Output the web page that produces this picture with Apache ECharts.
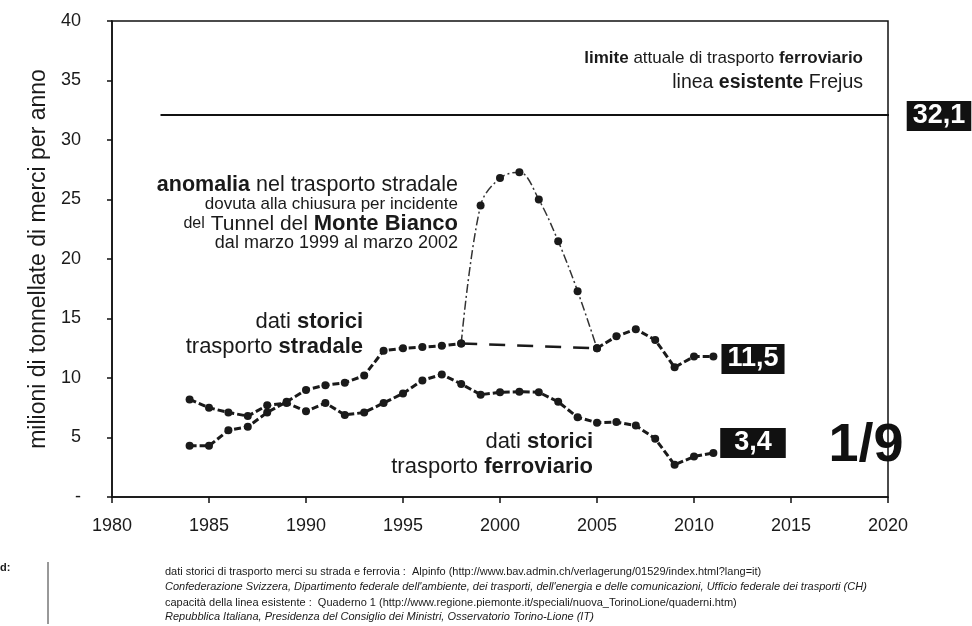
<!DOCTYPE html>
<html>
<head>
<meta charset="utf-8">
<script src="https://cdn.jsdelivr.net/npm/echarts@6/dist/echarts.min.js"></script>
<style>
html,body{margin:0;padding:0;background:#fff;}
#c{width:972px;height:626px;}
</style>
</head>
<body>
<div id="c"></div>
<script>
// ---- data ----
var years = [1984,1985,1986,1987,1988,1989,1990,1991,1992,1993,1994,1995,1996,1997,1998,1999,2000,2001,2002,2003,2004,2005,2006,2007,2008,2009,2010,2011];
var roadValues = [4.3,4.3,5.6,5.9,7.1,8.0,9.0,9.4,9.6,10.2,12.3,12.5,12.6,12.7,12.9,null,null,null,null,null,null,12.5,13.5,14.1,13.2,10.9,11.8,11.8];
var railValues = [8.2,7.5,7.1,6.8,7.7,7.9,7.2,7.9,6.9,7.1,7.9,8.7,9.8,10.3,9.5,8.6,8.8,8.85,8.8,8.0,6.7,6.25,6.3,6.0,4.9,2.7,3.4,3.7];
var anomalyYears = [1998,1999,2000,2001,2002,2003,2004,2005];
var anomalyValues = [12.9,24.5,26.8,27.3,25.0,21.5,17.3,12.5];
var trendYears = [1998,2005];
var trendValues = [12.9,12.5];
var limitYears = [1982.5,2020.3];
var limitValues = [32.1,32.1];
var xTicks = {min:1980,max:2020,interval:5};
var yTicks = {min:0,max:40,interval:5};

function pairs(xs, ys){ return xs.map(function(x,i){ return [x, ys[i]]; }); }

var FONT = "'Liberation Sans', Arial, sans-serif";
var chart = echarts.init(document.getElementById('c'), null, {renderer:'canvas'});

var lineCol = '#1a1a1a';
function rt(size){ return {b:{fontWeight:'bold',fontSize:size,fill:'#1a1a1a',fontFamily:FONT}}; }
var option = {
  backgroundColor:'#ffffff',
  animation:false,
  textStyle:{fontFamily:FONT},
  grid:{left:112,right:84,top:21,bottom:129,show:true,borderColor:'#111',borderWidth:1.5,backgroundColor:'transparent'},
  xAxis:{
    type:'value', min:xTicks.min, max:xTicks.max, interval:xTicks.interval,
    axisLine:{show:true,onZero:false,lineStyle:{color:'#111',width:1.5}},
    axisTick:{show:true,inside:false,length:6,lineStyle:{color:'#111',width:1.5}},
    axisLabel:{color:'#1a1a1a',fontSize:18,margin:20,fontFamily:FONT,
      formatter:function(v){ return String(v); }},
    splitLine:{show:false}
  },
  yAxis:{
    type:'value', min:yTicks.min, max:yTicks.max, interval:yTicks.interval,
    name:'milioni di tonnellate di merci per anno', nameLocation:'middle', nameGap:60, nameRotate:90,
    nameTextStyle:{color:'#1a1a1a',fontSize:23,fontFamily:FONT},
    axisLine:{show:true,lineStyle:{color:'#111',width:1.5}},
    axisTick:{show:true,inside:false,length:5,lineStyle:{color:'#111',width:1.5}},
    axisLabel:{color:'#1a1a1a',fontSize:18,margin:31,fontFamily:FONT,
      formatter:function(v){ return v===0 ? '-' : String(v); }},
    splitLine:{show:false}
  },
  series:[
    {type:'line', name:'limite', data:pairs(limitYears,limitValues), symbol:'none',
      lineStyle:{color:'#111',width:2}, z:2},
    {type:'line', name:'tendenza', data:pairs(trendYears,trendValues), symbol:'none',
      lineStyle:{color:lineCol,width:2.5,type:[16,12]}, z:2},
    {type:'line', name:'anomalia', data:pairs(anomalyYears,anomalyValues), smooth:0.35,
      symbol:'circle', symbolSize:8, itemStyle:{color:lineCol},
      lineStyle:{color:'#333',width:1.5,type:[9,3,2,3]}, z:3},
    {type:'line', name:'stradale', data:pairs(years,roadValues), connectNulls:false,
      symbol:'circle', symbolSize:8, itemStyle:{color:lineCol},
      lineStyle:{color:lineCol,width:3,type:[7,3]}, z:4},
    {type:'line', name:'ferroviario', data:pairs(years,railValues),
      symbol:'circle', symbolSize:8, itemStyle:{color:lineCol},
      lineStyle:{color:lineCol,width:3,type:[7,3]}, z:4}
  ],
  graphic:[
    // limit annotation
    {type:'text', x:863, y:58, style:{text:'{b|limite} attuale di trasporto {b|ferroviario}', fill:'#1a1a1a', font:'17px '+FONT, align:'right', verticalAlign:'middle', rich:rt(17)}},
    {type:'text', x:863, y:83, style:{text:'linea {b|esistente} Frejus', fill:'#1a1a1a', font:'19.5px '+FONT, align:'right', verticalAlign:'middle', rich:rt(19.5)}},
    // value boxes
    {type:'text', x:939, y:116, style:{text:'32,1', fill:'#ffffff', font:'bold 27px '+FONT, align:'center', verticalAlign:'middle', backgroundColor:'#111', padding:[2,6,1,6]}},
    {type:'text', x:753, y:359, style:{text:'11,5', fill:'#ffffff', font:'bold 27px '+FONT, align:'center', verticalAlign:'middle', backgroundColor:'#111', padding:[2,6,1,6]}},
    {type:'text', x:753, y:443, style:{text:'3,4', fill:'#ffffff', font:'bold 27px '+FONT, align:'center', verticalAlign:'middle', backgroundColor:'#111', padding:[2,14,1,14]}},
    {type:'text', x:866, y:446, style:{text:'1/9', fill:'#111', font:'bold 54px '+FONT, align:'center', verticalAlign:'middle'}},
    // anomaly annotation
    {type:'text', x:458, y:185, style:{text:'{b|anomalia} nel trasporto stradale', fill:'#1a1a1a', font:'21.5px '+FONT, align:'right', verticalAlign:'middle', rich:rt(21.5)}},
    {type:'text', x:458, y:204, style:{text:'dovuta alla chiusura per incidente', fill:'#1a1a1a', font:'17px '+FONT, align:'right', verticalAlign:'middle'}},
    {type:'text', x:458, y:224, style:{text:'{s|del} Tunnel del {b|Monte Bianco}', fill:'#1a1a1a', font:'21px '+FONT, align:'right', verticalAlign:'middle',
      rich:{s:{fontSize:16,fill:'#1a1a1a',fontFamily:FONT},b:{fontWeight:'bold',fontSize:22,fill:'#1a1a1a',fontFamily:FONT}}}},
    {type:'text', x:458, y:243, style:{text:'dal marzo 1999 al marzo 2002', fill:'#1a1a1a', font:'18px '+FONT, align:'right', verticalAlign:'middle'}},
    // series labels
    {type:'text', x:363, y:322, style:{text:'dati {b|storici}', fill:'#1a1a1a', font:'22px '+FONT, align:'right', verticalAlign:'middle', rich:rt(22)}},
    {type:'text', x:363, y:347, style:{text:'trasporto {b|stradale}', fill:'#1a1a1a', font:'22px '+FONT, align:'right', verticalAlign:'middle', rich:rt(22)}},
    {type:'text', x:593, y:442, style:{text:'dati {b|storici}', fill:'#1a1a1a', font:'22px '+FONT, align:'right', verticalAlign:'middle', rich:rt(22)}},
    {type:'text', x:593, y:467, style:{text:'trasporto {b|ferroviario}', fill:'#1a1a1a', font:'22px '+FONT, align:'right', verticalAlign:'middle', rich:rt(22)}},
    // footer
    {type:'text', x:0, y:568, style:{text:'d:', fill:'#1a1a1a', font:'bold 11px '+FONT, align:'left', verticalAlign:'middle'}},
    {type:'line', shape:{x1:48,y1:562,x2:48,y2:624}, style:{stroke:'#333',lineWidth:1}},
    {type:'text', x:165, y:572, style:{text:'dati storici di trasporto merci su strada e ferrovia :  Alpinfo (http://www.bav.admin.ch/verlagerung/01529/index.html?lang=it)', fill:'#1a1a1a', font:'11px '+FONT, align:'left', verticalAlign:'middle'}},
    {type:'text', x:165, y:587, style:{text:"Confederazione Svizzera, Dipartimento federale dell'ambiente, dei trasporti, dell'energia e delle comunicazioni, Ufficio federale dei trasporti (CH)", fill:'#1a1a1a', font:'italic 11px '+FONT, align:'left', verticalAlign:'middle'}},
    {type:'text', x:165, y:603, style:{text:'capacità della linea esistente :  Quaderno 1 (http://www.regione.piemonte.it/speciali/nuova_TorinoLione/quaderni.htm)', fill:'#1a1a1a', font:'11px '+FONT, align:'left', verticalAlign:'middle'}},
    {type:'text', x:165, y:617, style:{text:'Repubblica Italiana, Presidenza del Consiglio dei Ministri, Osservatorio Torino-Lione (IT)', fill:'#1a1a1a', font:'italic 11px '+FONT, align:'left', verticalAlign:'middle'}}
  ]
};
chart.setOption(option);
</script>
</body>
</html>
